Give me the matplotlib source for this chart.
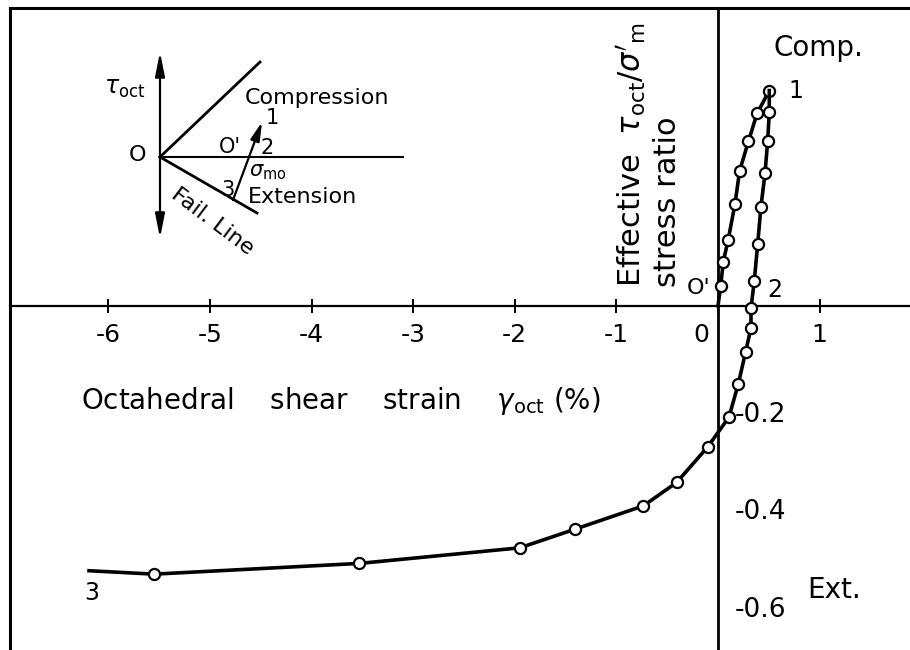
import matplotlib.pyplot as plt
import matplotlib.transforms as mtransforms

plt.rcParams['font.family'] = ['DejaVu Sans']
plt.rcParams['mathtext.fontset'] = 'dejavusans'

# loading path O' -> 1 (starts at the origin)
load_strain = [0.0, 0.027, 0.052, 0.10, 0.167, 0.213, 0.30, 0.385, 0.505]
load_ratio = [0.0, 0.041, 0.091, 0.135, 0.209, 0.277, 0.338, 0.395, 0.442]

# unloading 1 -> 2, then extension 2 -> 3
ext_strain = [0.505, 0.505, 0.489, 0.463, 0.423, 0.391, 0.357, 0.325, 0.325,
              0.272, 0.200, 0.108, -0.101, -0.407, -0.735, -1.41, -1.95,
              -3.53, -5.55, -6.19]
ext_ratio = [0.442, 0.397, 0.338, 0.272, 0.204, 0.127, 0.051, -0.005, -0.045,
             -0.094, -0.160, -0.228, -0.289, -0.362, -0.410, -0.458, -0.496,
             -0.528, -0.550, -0.543]

x_ticks = [-6, -5, -4, -3, -2, -1, 0, 1]
x_tick_labels = ['-6', '-5', '-4', '-3', '-2', '-1', '0 ', '1']
y_ticks = [-0.2, -0.4, -0.6]
y_tick_labels = ['-0.2', '-0.4', '-0.6']

fig = plt.figure(figsize=(9.1, 6.5), dpi=100)
ax = fig.add_axes([10 / 910, 0, 900 / 910, 642 / 650])
ax.set_xlim(-6.968, 1.890)
ax.set_ylim(-0.7056, 0.6113)

# axes through the origin, frame on top and left
ax.spines['left'].set_position(('data', 0))
ax.spines['bottom'].set_position(('data', 0))
ax.spines['right'].set_visible(False)
ax.spines['left'].set_linewidth(2.0)
ax.spines['bottom'].set_linewidth(1.6)
ax.spines['top'].set_linewidth(2.2)
ax.plot([0, 0], [0, 1], transform=ax.transAxes, color='k', lw=2.2,
        clip_on=False)

ax.set_xticks(x_ticks, x_tick_labels)
ax.tick_params(axis='x', direction='inout', length=10, width=1.4, pad=7,
               labelsize=18)
ax.get_xticklabels()[6].set_horizontalalignment('right')

ax.set_yticks(y_ticks, y_tick_labels)
ax.tick_params(axis='y', length=0, pad=-12, labelsize=19)
shift = mtransforms.ScaledTranslation(0, -6 / 72, fig.dpi_scale_trans)
for lab in ax.get_yticklabels():
    lab.set_horizontalalignment('left')
    lab.set_transform(lab.get_transform() + shift)

line_kw = dict(color='k', lw=2.6, marker='o', ms=8, mfc='white', mec='k',
               mew=1.6, zorder=4, clip_on=False)
ax.plot(load_strain, load_ratio,
        markevery=list(range(1, len(load_strain))), **line_kw)
ax.plot(ext_strain, ext_ratio,
        markevery=list(range(1, len(ext_strain) - 1)), **line_kw)

# point labels
ax.annotate('1', (load_strain[-1], load_ratio[-1]), xytext=(19, 0),
            textcoords='offset points', ha='center', va='center', fontsize=17)
ax.annotate('2', (ext_strain[6], ext_ratio[6]), xytext=(15, -6.5),
            textcoords='offset points', ha='center', va='center', fontsize=17)
ax.annotate("O'", (load_strain[1], load_ratio[1]), xytext=(-16, -1.5),
            textcoords='offset points', ha='center', va='center', fontsize=16)
ax.annotate('3', (ext_strain[-1], ext_ratio[-1]), xytext=(2, -16),
            textcoords='offset points', ha='center', va='center', fontsize=17)

ax.text(0.984, 0.529, 'Comp.', ha='center', va='center', fontsize=20)
ax.text(1.142, -0.583, 'Ext.', ha='center', va='center', fontsize=20)

ax.text(-3.71, -0.195,
        r'Octahedral    shear    strain    $\gamma_{\rm oct}$ (%)',
        ha='center', va='center', fontsize=20)
ax.text(-0.684, 0.039,
        "Effective  $\\tau_{\\rm oct}/\\sigma'_{\\rm m}$\nstress ratio",
        rotation=90, ha='center', va='bottom', multialignment='left',
        fontsize=22, linespacing=1.15)

# schematic of the stress path in the tau_oct - sigma_m plane
ins = fig.add_axes([100 / 910, 1 - 270 / 650, 320 / 910, 230 / 650])
ins.set_xlim(-0.6, 2.6)
ins.set_ylim(-1.13, 1.17)
ins.axis('off')

ins.annotate('', xy=(0, 1.05), xytext=(0, -0.81),
             arrowprops=dict(arrowstyle='<|-|>,head_length=0.9,head_width=0.18',
                             lw=1.6, color='k', shrinkA=0, shrinkB=0,
                             mutation_scale=16))
ins.plot([0, 2.43], [0, 0], color='k', lw=1.5)
ins.plot([0, 1.0], [0, 0.95], color='k', lw=2.0)
ins.plot([0, 0.97], [0, -0.56], color='k', lw=2.0)
ins.annotate('', xy=(1.02, 0.35), xytext=(0.73, -0.43),
             arrowprops=dict(arrowstyle='-|>,head_length=0.8,head_width=0.2',
                             lw=1.6, color='k', shrinkA=0, shrinkB=0,
                             mutation_scale=14))

ins.text(-0.35, 0.69, r'$\tau_{\rm oct}$', ha='center', va='center',
         fontsize=17)
ins.text(-0.22, 0.02, 'O', ha='center', va='center', fontsize=16)
ins.text(1.57, 0.59, 'Compression', ha='center', va='center', fontsize=16)
ins.text(1.12, 0.39, '1', ha='center', va='center', fontsize=15)
ins.text(0.70, 0.10, "O'", ha='center', va='center', fontsize=15)
ins.text(1.07, 0.09, '2', ha='center', va='center', fontsize=15)
ins.text(1.08, -0.15, r'$\sigma_{\rm mo}$', ha='center', va='center',
         fontsize=15)
ins.text(0.68, -0.33, '3', ha='center', va='center', fontsize=15)
ins.text(1.42, -0.40, 'Extension', ha='center', va='center', fontsize=16)
ins.text(0.52, -0.65, 'Fail. Line', ha='center', va='center', fontsize=16,
         rotation=-37)

fig.savefig('out.png', dpi=100)
